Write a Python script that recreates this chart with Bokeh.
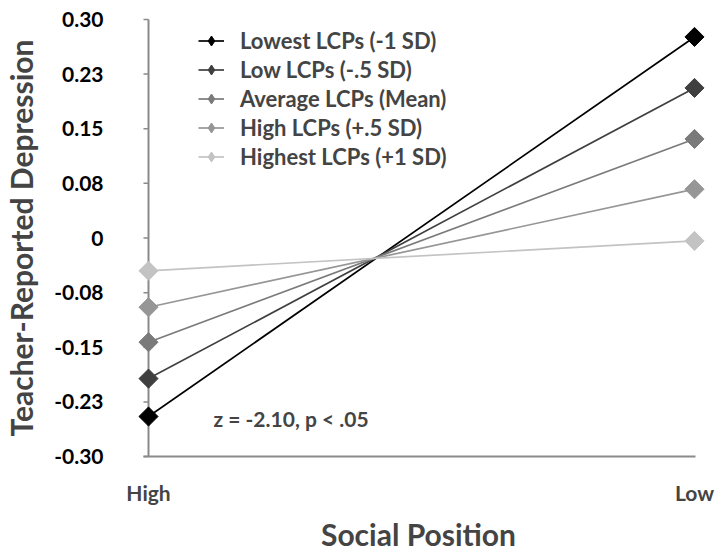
from bokeh.plotting import figure
from bokeh.models import Range1d, FixedTicker, Legend, LegendItem, Label
from bokeh.embed import file_html
from bokeh.resources import INLINE

# ---- data ----
categories = ["High", "Low"]
series_names = ["Lowest LCPs (-1 SD)", "Low LCPs (-.5 SD)", "Average LCPs (Mean)",
                "High LCPs (+.5 SD)", "Highest LCPs (+1 SD)"]
high_values = [-0.245, -0.193, -0.143, -0.095, -0.045]
low_values = [0.276, 0.206, 0.136, 0.067, -0.004]
series_colors = ["#000000", "#3f3f3f", "#7a7a7a", "#969696", "#c3c3c3"]
y_tick_values = [-0.30, -0.225, -0.15, -0.075, 0.0, 0.075, 0.15, 0.225, 0.30]
y_tick_labels = ["-0.30", "-0.23", "-0.15", "-0.08", "0", "0.08", "0.15", "0.23", "0.30"]
annotation = "z = -2.10, p < .05"

FONT = "Lato"
AXIS_GRAY = "#8a8a8a"

x_pos = list(range(len(categories)))
XPX = 546.0          # pixels per x unit
YPX = 445.0 / 0.6    # pixels per y unit
y_lo, y_hi = y_tick_values[0], y_tick_values[-1]

p = figure(width=720, height=554, output_backend="svg", toolbar_location=None,
           x_range=Range1d(x_pos[0] - 18 / XPX, x_pos[-1] + 12 / XPX),
           y_range=Range1d(y_lo - 3 / YPX, y_hi + 3 / YPX),
           min_border_left=130, min_border_right=14, min_border_top=16, min_border_bottom=87)
p.outline_line_color = None
p.xgrid.visible = False
p.ygrid.visible = False
p.background_fill_color = "white"

# y axis (labels only; line and ticks drawn at the category position)
p.yaxis.ticker = FixedTicker(ticks=y_tick_values)
p.yaxis.major_label_overrides = {v: l for v, l in zip(y_tick_values, y_tick_labels)}
p.yaxis.axis_line_color = None
p.yaxis.major_tick_line_color = None
p.yaxis.minor_tick_line_color = None
p.yaxis.major_label_standoff = 21
p.yaxis.major_label_text_font = FONT
p.yaxis.major_label_text_font_style = "bold"
p.yaxis.major_label_text_font_size = "21px"
p.yaxis.major_label_text_color = "#000000"
p.yaxis.axis_label = "Teacher-Reported Depression"
p.yaxis.axis_label_text_font = FONT
p.yaxis.axis_label_text_font_style = "bold"
p.yaxis.axis_label_text_font_size = "30px"
p.yaxis.axis_label_standoff = 12

# x axis (labels; line drawn separately)
p.xaxis.ticker = FixedTicker(ticks=x_pos)
p.xaxis.major_label_overrides = {i: c for i, c in zip(x_pos, categories)}
p.xaxis.axis_line_color = None
p.xaxis.major_tick_line_color = None
p.xaxis.minor_tick_line_color = None
p.xaxis.major_label_standoff = 14
p.xaxis.major_label_text_font = FONT
p.xaxis.major_label_text_font_style = "bold"
p.xaxis.major_label_text_font_size = "21px"
p.xaxis.axis_label = "Social Position"
p.xaxis.axis_label_text_font = FONT
p.xaxis.axis_label_text_font_style = "bold"
p.xaxis.axis_label_text_font_size = "30px"
p.xaxis.axis_label_standoff = 8

# axis lines and y ticks
p.segment(x0=[x_pos[0]], y0=[y_lo], x1=[x_pos[0]], y1=[y_hi], line_color=AXIS_GRAY, line_width=2)
p.segment(x0=[x_pos[0] - 5 / XPX], y0=[y_lo], x1=[x_pos[-1] + 1 / XPX], y1=[y_lo],
          line_color=AXIS_GRAY, line_width=2)
p.segment(x0=[x_pos[0] - 5 / XPX] * len(y_tick_values), y0=y_tick_values,
          x1=[x_pos[0]] * len(y_tick_values), y1=y_tick_values,
          line_color=AXIS_GRAY, line_width=1.5)

nan = float("nan")
items = []
for name, hv, lv, col in zip(series_names, high_values, low_values, series_colors):
    ys = [hv, lv]
    lr = p.line(x_pos, ys, line_color=col, line_width=1.7)
    p.scatter(x_pos, ys, marker="square", angle=0.785398, size=13.5,
              fill_color=col, line_color=col)
    # legend key marker (legend keys ignore marker rotation); not drawn in the plot
    kr = p.scatter(x=[nan], y=[nan], marker="diamond", size=19, fill_color=col, line_color=col)
    items.append(LegendItem(label=name, renderers=[lr, kr]))

legend = Legend(items=items, location=(68, 289), orientation="vertical",
                background_fill_alpha=0, border_line_alpha=0, padding=0, margin=0,
                spacing=2, glyph_height=25, glyph_width=26, label_height=25,
                label_standoff=16, label_text_font=FONT, label_text_font_style="bold",
                label_text_font_size="22px")
p.add_layout(legend)

p.add_layout(Label(x=(213 - 148) / XPX, y=-0.248, text=annotation, text_font=FONT,
                   text_font_style="bold", text_font_size="21px", text_baseline="middle"))

open("out.html", "w").write(file_html(p, INLINE))
